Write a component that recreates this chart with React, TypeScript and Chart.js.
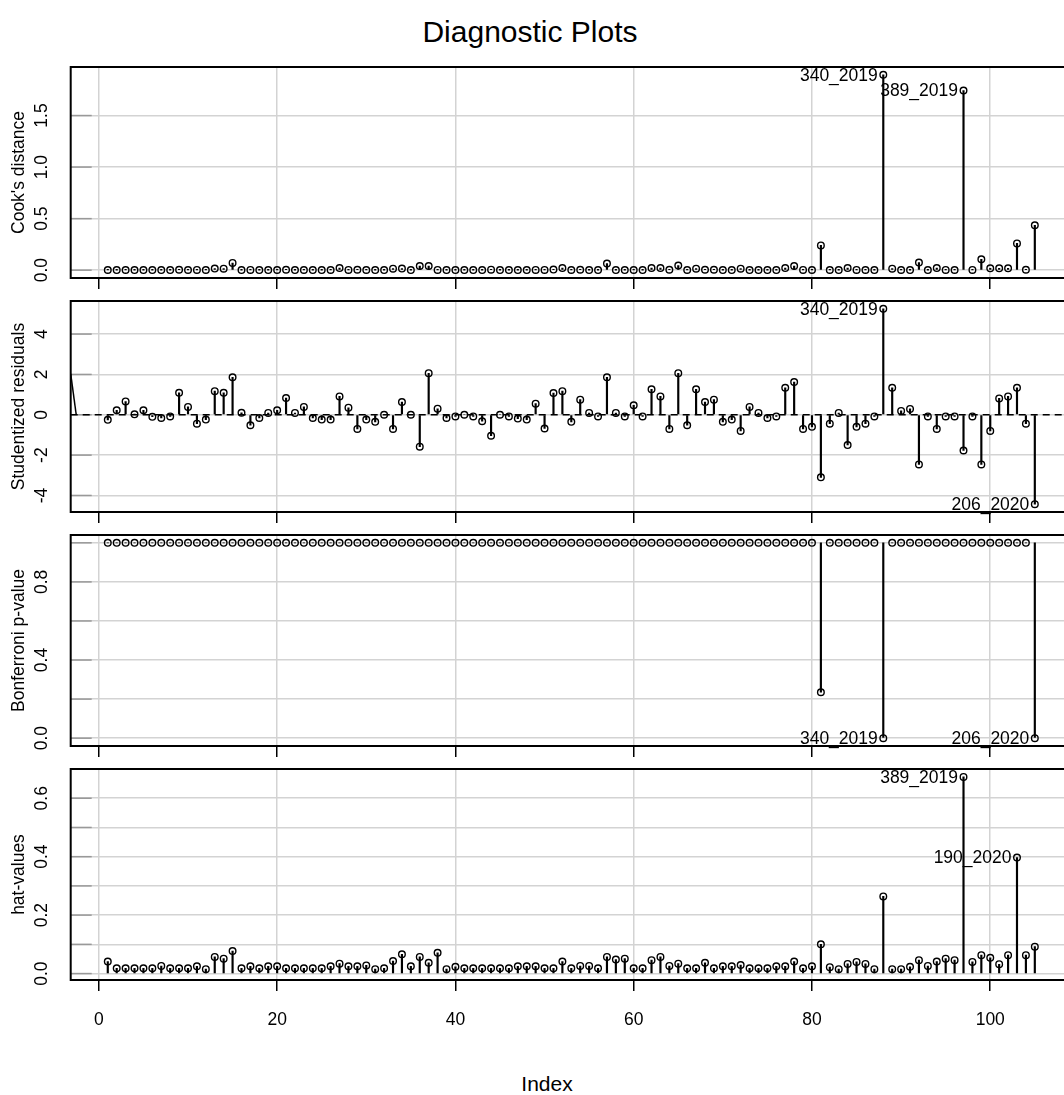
import React, { useEffect, useRef } from "react";
import { Chart, registerables } from "chart.js";

Chart.register(...registerables);

const FONT = '"Liberation Sans", Arial, Helvetica, sans-serif';

// ---------------- data ----------------
const observationIndex = Array.from({ length: 105 }, (_, k) => k + 1);

const cooksDistance = [
  0.002, 0.001, 0.002, 0.001, 0.001, 0.001, 0.001, 0.001, 0.004, 0.002,
  0.003, 0.002, 0.016, 0.015, 0.07, 0.001, 0.003, 0.001, 0.001, 0.002,
  0.004, 0.001, 0.002, 0.001, 0.001, 0.002, 0.02, 0.003, 0.004, 0.002,
  0.001, 0.001, 0.015, 0.016, 0.001, 0.04, 0.04, 0.003, 0.001, 0.001,
  0.001, 0.001, 0.001, 0.005, 0.001, 0.001, 0.001, 0.001, 0.003, 0.003,
  0.006, 0.02, 0.002, 0.004, 0.001, 0.001, 0.065, 0.001, 0.001, 0.002,
  0.001, 0.02, 0.02, 0.004, 0.045, 0.002, 0.015, 0.004, 0.004, 0.001,
  0.001, 0.015, 0.001, 0.001, 0.001, 0.001, 0.02, 0.04, 0.003, 0.002,
  0.24, 0.002, 0.001, 0.02, 0.003, 0.002, 0.001, 1.895, 0.015, 0.002,
  0.001, 0.074, 0.001, 0.02, 0.003, 0.002, 1.742, 0.003, 0.106, 0.018,
  0.018, 0.018, 0.26, 0.004, 0.436,
];

const studentizedResiduals = [
  -0.25, 0.22, 0.66, 0.02, 0.22, -0.1, -0.16, -0.08, 1.09, 0.39,
  -0.44, -0.24, 1.17, 1.09, 1.86, 0.1, -0.52, -0.16, 0.09, 0.22,
  0.83, 0.09, 0.39, -0.16, -0.24, -0.24, 0.91, 0.35, -0.7, -0.24,
  -0.35, 0.0, -0.7, 0.63, 0.0, -1.58, 2.06, 0.3, -0.16, -0.08,
  0.0, -0.08, -0.32, -1.04, 0.0, -0.08, -0.19, -0.24, 0.55, -0.68,
  1.08, 1.17, -0.35, 0.75, 0.09, -0.08, 1.86, 0.09, -0.08, 0.47,
  -0.08, 1.26, 0.91, -0.7, 2.06, -0.52, 1.26, 0.63, 0.75, -0.35,
  -0.24, -0.8, 0.39, 0.09, -0.16, -0.08, 1.34, 1.62, -0.7, -0.6,
  -3.1, -0.44, 0.09, -1.5, -0.6, -0.44, -0.08, 5.25, 1.34, 0.19,
  0.29, -2.46, -0.08, -0.7, -0.08, -0.08, -1.77, -0.08, -2.46, -0.8,
  0.81, 0.91, 1.34, -0.44, -4.43,
];

const bonferroniP = [
  1, 1, 1, 1, 1, 1, 1, 1, 1, 1,
  1, 1, 1, 1, 1, 1, 1, 1, 1, 1,
  1, 1, 1, 1, 1, 1, 1, 1, 1, 1,
  1, 1, 1, 1, 1, 1, 1, 1, 1, 1,
  1, 1, 1, 1, 1, 1, 1, 1, 1, 1,
  1, 1, 1, 1, 1, 1, 1, 1, 1, 1,
  1, 1, 1, 1, 1, 1, 1, 1, 1, 1,
  1, 1, 1, 1, 1, 1, 1, 1, 1, 1,
  0.235, 1, 1, 1, 1, 1, 1, 0.0, 1, 1,
  1, 1, 1, 1, 1, 1, 1, 1, 1, 1,
  1, 1, 1, 1, 0.0,
];

const hatValues = [
  0.041, 0.018, 0.018, 0.018, 0.018, 0.018, 0.026, 0.018, 0.018, 0.018,
  0.025, 0.015, 0.057, 0.051, 0.077, 0.018, 0.025, 0.018, 0.025, 0.025,
  0.018, 0.018, 0.018, 0.018, 0.018, 0.025, 0.034, 0.025, 0.025, 0.028,
  0.015, 0.018, 0.043, 0.066, 0.025, 0.057, 0.037, 0.071, 0.015, 0.023,
  0.018, 0.018, 0.018, 0.018, 0.018, 0.018, 0.025, 0.025, 0.025, 0.018,
  0.018, 0.041, 0.018, 0.026, 0.026, 0.018, 0.057, 0.048, 0.051, 0.018,
  0.018, 0.046, 0.057, 0.026, 0.034, 0.018, 0.018, 0.037, 0.018, 0.025,
  0.025, 0.029, 0.018, 0.018, 0.018, 0.025, 0.025, 0.041, 0.018, 0.025,
  0.1, 0.022, 0.015, 0.033, 0.04, 0.033, 0.015, 0.264, 0.015, 0.015,
  0.023, 0.046, 0.026, 0.041, 0.051, 0.046, 0.673, 0.04, 0.063, 0.054,
  0.032, 0.063, 0.397, 0.063, 0.092,
];

// segment entering the residual panel at its left edge
const residualEdgeSegment = [
  { x: -3.16, y: 2.03 },
  { x: -2.54, y: 0 },
];

const xTickValues = [0, 20, 40, 60, 80, 100];
const xTickLabels = ["0", "20", "40", "60", "80", "100"];

const cookGrid = [0, 0.5, 1.0, 1.5];
const cookTickValues = [0, 0.5, 1.0, 1.5];
const cookTickLabels = ["0.0", "0.5", "1.0", "1.5"];

const residualGrid = [-4, -2, 0, 2, 4];
const residualTickValues = [-4, -2, 0, 2, 4];
const residualTickLabels = ["-4", "-2", "0", "2", "4"];

const bonfGrid = [0, 0.2, 0.4, 0.6, 0.8, 1.0];
const bonfTickValues = [0, 0.4, 0.8];
const bonfTickLabels = ["0.0", "0.4", "0.8"];

const hatGrid = [0, 0.1, 0.2, 0.3, 0.4, 0.5, 0.6];
const hatTickValues = [0, 0.2, 0.4, 0.6];
const hatTickLabels = ["0.0", "0.2", "0.4", "0.6"];

const cookIds = [
  { index: 88, text: "340_2019" },
  { index: 97, text: "389_2019" },
];
const residualIds = [
  { index: 88, text: "340_2019" },
  { index: 105, text: "206_2020" },
];
const bonfIds = [
  { index: 88, text: "340_2019" },
  { index: 105, text: "206_2020" },
];
const hatIds = [
  { index: 97, text: "389_2019" },
  { index: 103, text: "190_2020" },
];

// ---------------- layout ----------------
const X_MIN = -3.16;
const X_MAX = 109.16;
const CANVAS_W = 1080;
const AREA_LEFT = 70.7;
const AREA_RIGHT = 1071.9;
const PANEL_H = 211;
const PANEL_TOPS = [67, 301, 535, 769];
const PAD_TOP = 16;
const TICK_LABEL_X = 42;
const Y_TITLE_X = 19;
const LABEL_FONT = `17.5px ${FONT}`;

type IdLabel = { index: number; text: string };
type PanelSpec = {
  yTitle: string;
  values: number[];
  stemBase: number;
  yMin: number;
  yMax: number;
  gridValues: number[];
  tickValues: number[];
  tickLabels: string[];
  ids: IdLabel[];
  zeroLine: boolean;
  bottomExtra: number;
  showXLabels: boolean;
};

const panelSpecs: PanelSpec[] = [
  {
    yTitle: "Cook's distance",
    values: cooksDistance,
    stemBase: 0,
    yMin: -0.0758,
    yMax: 1.9708,
    gridValues: cookGrid,
    tickValues: cookTickValues,
    tickLabels: cookTickLabels,
    ids: cookIds,
    zeroLine: false,
    bottomExtra: 20,
    showXLabels: false,
  },
  {
    yTitle: "Studentized residuals",
    values: studentizedResiduals,
    stemBase: 0,
    yMin: -4.82,
    yMax: 5.64,
    gridValues: residualGrid,
    tickValues: residualTickValues,
    tickLabels: residualTickLabels,
    ids: residualIds,
    zeroLine: true,
    bottomExtra: 20,
    showXLabels: false,
  },
  {
    yTitle: "Bonferroni p-value",
    values: bonferroniP,
    stemBase: 1,
    yMin: -0.04,
    yMax: 1.04,
    gridValues: bonfGrid,
    tickValues: bonfTickValues,
    tickLabels: bonfTickLabels,
    ids: bonfIds,
    zeroLine: false,
    bottomExtra: 20,
    showXLabels: false,
  },
  {
    yTitle: "hat-values",
    values: hatValues,
    stemBase: 0,
    yMin: -0.022,
    yMax: 0.7,
    gridValues: hatGrid,
    tickValues: hatTickValues,
    tickLabels: hatTickLabels,
    ids: hatIds,
    zeroLine: false,
    bottomExtra: 60,
    showXLabels: true,
  },
];

function makeDecor(spec: PanelSpec) {
  return {
    id: "decor",
    beforeDatasetsDraw(chart: any) {
      const { ctx, chartArea } = chart;
      const y = chart.scales.y;
      ctx.save();
      ctx.strokeStyle = "#999999";
      ctx.lineWidth = 1.5;
      spec.gridValues.forEach((v) => {
        const py = y.getPixelForValue(v);
        ctx.beginPath();
        ctx.moveTo(chartArea.left, py);
        ctx.lineTo(chartArea.left + 21, py);
        ctx.stroke();
      });
      ctx.restore();
    },
    afterDraw(chart: any) {
      const { ctx, chartArea } = chart;
      const x = chart.scales.x;
      const y = chart.scales.y;
      ctx.save();
      ctx.strokeStyle = "#000";
      ctx.lineWidth = 2;
      ctx.strokeRect(
        chartArea.left,
        chartArea.top,
        chartArea.right - chartArea.left,
        chartArea.bottom - chartArea.top
      );
      ctx.fillStyle = "#000";
      ctx.font = LABEL_FONT;
      ctx.textAlign = "center";
      ctx.textBaseline = "middle";
      spec.tickValues.forEach((v, k) => {
        ctx.save();
        ctx.translate(TICK_LABEL_X, y.getPixelForValue(v));
        ctx.rotate(-Math.PI / 2);
        ctx.fillText(spec.tickLabels[k], 0, 0);
        ctx.restore();
      });
      ctx.save();
      ctx.translate(Y_TITLE_X, (chartArea.top + chartArea.bottom) / 2);
      ctx.rotate(-Math.PI / 2);
      ctx.fillText(spec.yTitle, 0, 0);
      ctx.restore();

      ctx.textAlign = "right";
      spec.ids.forEach((id) => {
        const px = x.getPixelForValue(id.index);
        const py = y.getPixelForValue(spec.values[id.index - 1]);
        ctx.fillText(id.text, px - 5.5, py + 1);
      });

      if (spec.showXLabels) {
        ctx.textAlign = "center";
        xTickValues.forEach((v, k) => {
          ctx.fillText(xTickLabels[k], x.getPixelForValue(v), chartArea.bottom + 40);
        });
      }
      ctx.restore();
    },
  };
}

function buildConfig(spec: PanelSpec): any {
  const datasets: any[] = [
    {
      type: "scatter",
      data: spec.values.map((v, k) => ({ x: observationIndex[k], y: v })),
      pointRadius: 3.3,
      pointBorderWidth: 1.4,
      borderColor: "#000",
      backgroundColor: "rgba(0,0,0,0)",
      pointHoverRadius: 3.3,
      showLine: false,
      order: 0,
    },
    {
      type: "bar",
      data: spec.values.map((v, k) => ({ x: observationIndex[k], y: [spec.stemBase, v] })),
      barThickness: 1.5,
      backgroundColor: "#000",
      borderWidth: 0,
      order: 1,
    },
  ];
  if (spec.zeroLine) {
    datasets.push({
      type: "line",
      data: [
        { x: X_MIN, y: 0 },
        { x: X_MAX, y: 0 },
      ],
      borderColor: "#000",
      borderWidth: 1.5,
      borderDash: [7, 5],
      pointRadius: 0,
      order: 2,
    });
    datasets.push({
      type: "line",
      data: residualEdgeSegment,
      borderColor: "#000",
      borderWidth: 1.5,
      pointRadius: 0,
      order: 3,
    });
  }
  return {
    type: "scatter",
    data: { datasets },
    plugins: [makeDecor(spec)],
    options: {
      animation: false,
      responsive: false,
      devicePixelRatio: 1,
      events: [],
      layout: { padding: { top: PAD_TOP, right: CANVAS_W - AREA_RIGHT, left: 0, bottom: 0 } },
      plugins: { legend: { display: false }, tooltip: { enabled: false }, title: { display: false } },
      scales: {
        x: {
          type: "linear",
          min: X_MIN,
          max: X_MAX,
          offset: false,
          afterBuildTicks: (scale: any) => {
            scale.ticks = xTickValues.map((v) => ({ value: v }));
          },
          afterFit: (scale: any) => {
            scale.height = spec.bottomExtra;
          },
          ticks: { display: false },
          border: { display: false },
          grid: {
            offset: false,
            color: "#d3d3d3",
            lineWidth: 1.5,
            drawTicks: true,
            tickLength: 11,
            tickColor: "#000",
            tickWidth: 1.5,
          },
        },
        y: {
          type: "linear",
          min: spec.yMin,
          max: spec.yMax,
          afterBuildTicks: (scale: any) => {
            scale.ticks = spec.gridValues.map((v) => ({ value: v }));
          },
          afterFit: (scale: any) => {
            scale.width = AREA_LEFT;
          },
          ticks: { display: false },
          border: { display: false },
          grid: { offset: false, color: "#d3d3d3", lineWidth: 1.5, drawTicks: false },
        },
      },
    },
  };
}

export default function App() {
  const canvasRefs = useRef<(HTMLCanvasElement | null)[]>([]);

  useEffect(() => {
    const charts = panelSpecs.map((spec, p) => new Chart(canvasRefs.current[p] as HTMLCanvasElement, buildConfig(spec)));
    return () => charts.forEach((c) => c.destroy());
  }, []);

  return (
    <div
      style={{
        position: "absolute",
        left: 0,
        top: 0,
        width: 1064,
        height: 1095,
        overflow: "hidden",
        background: "#fff",
        fontFamily: FONT,
        color: "#000",
      }}
    >
      <div
        style={{
          position: "absolute",
          left: 230,
          width: 600,
          top: 17,
          fontSize: 30,
          lineHeight: "30px",
          textAlign: "center",
        }}
      >
        Diagnostic Plots
      </div>
      {panelSpecs.map((spec, p) => {
        const h = PAD_TOP + PANEL_H + spec.bottomExtra;
        return (
          <canvas
            key={p}
            ref={(el) => {
              canvasRefs.current[p] = el;
            }}
            width={CANVAS_W}
            height={h}
            style={{ position: "absolute", left: 0, top: PANEL_TOPS[p] - PAD_TOP, width: CANVAS_W, height: h }}
          />
        );
      })}
      <div
        style={{
          position: "absolute",
          left: 347,
          width: 400,
          top: 1073,
          fontSize: 21,
          lineHeight: "22px",
          textAlign: "center",
        }}
      >
        Index
      </div>
    </div>
  );
}
